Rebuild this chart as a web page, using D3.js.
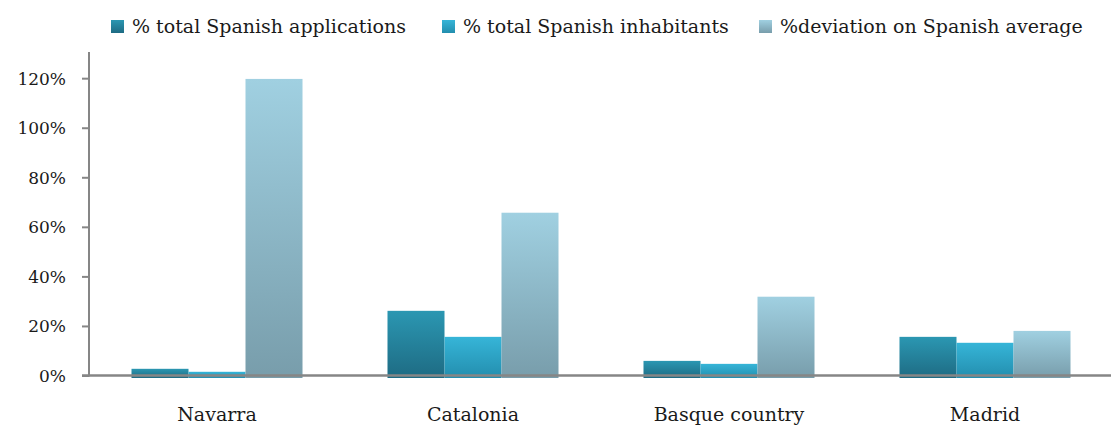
<!DOCTYPE html>
<html>
<head>
<meta charset="utf-8">
<script src="https://cdn.jsdelivr.net/npm/d3@7"></script>
<style>
  body { margin: 0; background: #fff; }
</style>
</head>
<body>
<div id="chart"></div>
<script>
// data
var regions = ["Navarra", "Catalonia", "Basque country", "Madrid"];
var seriesNames = ["% total Spanish applications", "% total Spanish inhabitants", "%deviation on Spanish average"];
var applications = [2.7, 26.1, 5.9, 15.6];
var inhabitants = [1.5, 15.6, 4.7, 13.2];
var deviation = [119.7, 65.7, 31.8, 18.0];
var yTicks = [0, 20, 40, 60, 80, 100, 120];

var series = [applications, inhabitants, deviation];
// gradient top / bottom per series
var colors = [["#2b97b2", "#1e6b83"], ["#36b5d8", "#238eae"], ["#a0d0e1", "#789dab"]];
var font = "'DejaVu Serif', 'Liberation Serif', serif";

var width = 1111, height = 426;
var svg = d3.select("#chart").append("svg")
    .attr("width", width)
    .attr("height", height);

var x0 = d3.scaleBand()
    .domain(regions)
    .range([89, 1113])
    .paddingInner(0.332)
    .paddingOuter(0.166);

var x1 = d3.scaleBand()
    .domain(d3.range(series.length))
    .range([0, x0.bandwidth()]);

var y = d3.scaleLinear()
    .domain([0, 130])
    .range([375.5, 53.4]);

var defs = svg.append("defs");
colors.forEach(function(c, i) {
  var g = defs.append("linearGradient")
      .attr("id", "grad" + i)
      .attr("x1", 0).attr("y1", 0).attr("x2", 0).attr("y2", 1);
  g.append("stop").attr("offset", "0%").attr("stop-color", c[0]);
  g.append("stop").attr("offset", "100%").attr("stop-color", c[1]);
});

// bars
var groups = svg.selectAll("g.region")
  .data(regions)
  .enter().append("g")
    .attr("class", "region")
    .attr("transform", function(d) { return "translate(" + x0(d) + ",0)"; });

groups.selectAll("rect")
  .data(function(d, i) { return series.map(function(s, k) { return {k: k, v: s[i]}; }); })
  .enter().append("rect")
    .attr("x", function(d) { return x1(d.k); })
    .attr("width", x1.bandwidth())
    .attr("y", function(d) { return y(d.v); })
    .attr("height", function(d) { return y(0) - y(d.v) + 2.5; })
    .style("fill", function(d) { return "url(#grad" + d.k + ")"; });

// y axis
var yAxis = svg.append("g")
    .attr("transform", "translate(89,0)")
    .call(d3.axisLeft(y).tickValues(yTicks).tickSize(7).tickPadding(16)
      .tickFormat(function(d) { return d + "%"; }));
yAxis.select(".domain").attr("stroke", "#868686").attr("stroke-width", 2)
    .attr("d", "M0," + (y(0) + 1) + "V52");
yAxis.selectAll(".tick line").attr("stroke", "#868686").attr("stroke-width", 2);
yAxis.selectAll(".tick text")
    .style("font-family", font).style("font-size", "17px").style("fill", "#1a1a1a")
    .attr("dy", "0.35em");

// x axis line
svg.append("line")
    .attr("x1", 82).attr("x2", 1111)
    .attr("y1", y(0)).attr("y2", y(0))
    .attr("stroke", "#868686").attr("stroke-width", 2.5);

// category labels
svg.selectAll("text.cat")
  .data(regions)
  .enter().append("text")
    .attr("class", "cat")
    .attr("x", function(d) { return x0(d) + x0.bandwidth() / 2; })
    .attr("y", 421)
    .attr("text-anchor", "middle")
    .style("font-family", font).style("font-size", "19px").style("fill", "#1a1a1a")
    .text(function(d) { return d; });

// legend
var legendX = [111, 442, 759];
var legend = svg.selectAll("g.legend")
  .data(seriesNames)
  .enter().append("g")
    .attr("class", "legend")
    .attr("transform", function(d, i) { return "translate(" + legendX[i] + ",0)"; });
legend.append("rect")
    .attr("x", 0).attr("y", 20)
    .attr("width", 13).attr("height", 13)
    .style("fill", function(d, i) { return "url(#grad" + i + ")"; });
legend.append("text")
    .attr("x", 21).attr("y", 33)
    .style("font-family", font).style("font-size", "19px").style("fill", "#1a1a1a")
    .text(function(d) { return d; });
</script>
</body>
</html>
